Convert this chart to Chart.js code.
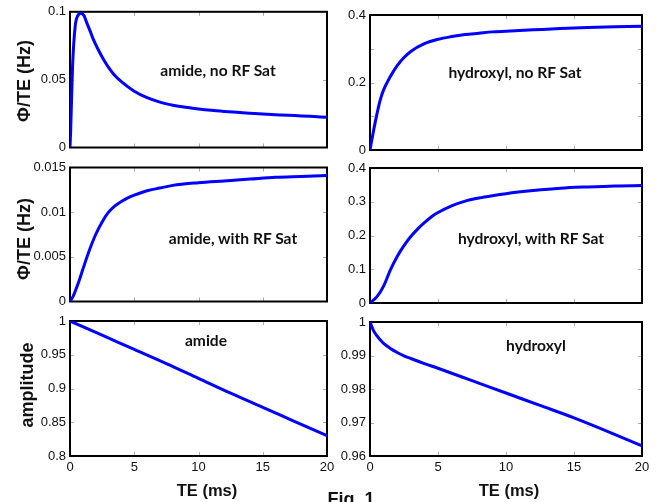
<!DOCTYPE html>
<html>
<head>
<meta charset="utf-8">
<script src="https://cdn.jsdelivr.net/npm/chart.js@4/dist/chart.umd.min.js"></script>
<style>
body { margin: 0; background: #fff; }
#fig { position: relative; width: 661px; height: 502px; overflow: hidden; }
#fig canvas { position: absolute; left: 0; top: 0; }
.lbl { position: absolute; white-space: nowrap; transform: translate(-50%, -50%); line-height: 1; color: #111; }
.note { font: bold 15.6px Lato, sans-serif; }
.ax { font: bold 18px "Liberation Sans", Arial, sans-serif; }
.xt { font: bold 16.5px "Liberation Sans", Arial, sans-serif; }
.rot { transform: translate(-50%, -50%) rotate(-90deg); }
</style>
</head>
<body>
<div id="fig">
  <canvas id="c1" width="661" height="502"></canvas>
  <canvas id="c2" width="661" height="502"></canvas>
  <canvas id="c3" width="661" height="502"></canvas>
  <canvas id="c4" width="661" height="502"></canvas>
  <canvas id="c5" width="661" height="502"></canvas>
  <canvas id="c6" width="661" height="502"></canvas>

  <div class="lbl note" style="left:218px;top:70px">amide, no RF Sat</div>
  <div class="lbl note" style="left:515px;top:72px">hydroxyl, no RF Sat</div>
  <div class="lbl note" style="left:233px;top:238px">amide, with RF Sat</div>
  <div class="lbl note" style="left:531px;top:238px">hydroxyl, with RF Sat</div>
  <div class="lbl note" style="left:206px;top:340px">amide</div>
  <div class="lbl note" style="left:536px;top:345px">hydroxyl</div>

  <div class="lbl ax rot" style="left:24px;top:81px">Φ/TE (Hz)</div>
  <div class="lbl ax rot" style="left:24px;top:239px">Φ/TE (Hz)</div>
  <div class="lbl ax rot" style="left:27px;top:385px">amplitude</div>
  <div class="lbl xt" style="left:207px;top:490px">TE (ms)</div>
  <div class="lbl xt" style="left:509px;top:490px">TE (ms)</div>
  <div class="lbl ax" style="left:351px;top:499px">Fig. 1</div>
</div>
<script>
// values, TE in ms
const te1  = [0, 0.05, 0.2, 0.4, 0.6, 0.85, 1.1, 1.3, 1.6, 1.8, 2.2, 2.6, 3, 3.4, 4, 5, 6, 7, 8, 9, 10, 11, 12, 13, 14, 15, 16, 17, 18, 19, 20];
const phi1 = [0, 0.012, 0.060, 0.089, 0.097, 0.099, 0.097, 0.092, 0.085, 0.080, 0.072, 0.065, 0.059, 0.054, 0.0485, 0.0415, 0.0367, 0.0334, 0.0312, 0.0296, 0.0284, 0.0274, 0.0266, 0.0259, 0.0253, 0.0247, 0.0242, 0.0237, 0.0233, 0.0228, 0.0223];

const te2  = [0, 0.25, 0.5, 0.75, 1, 1.5, 2, 2.5, 3, 4, 5, 6, 7, 8, 9, 10, 12, 14, 16, 18, 20];
const phi2 = [0, 0.055, 0.105, 0.148, 0.178, 0.218, 0.250, 0.274, 0.292, 0.315, 0.328, 0.336, 0.342, 0.346, 0.350, 0.352, 0.356, 0.360, 0.363, 0.365, 0.367];

const te3  = [0, 0.25, 0.5, 0.75, 1, 1.5, 2, 2.5, 3, 3.5, 4, 4.5, 5, 6, 7, 8, 10, 12, 14, 16, 18, 20];
const phi3 = [0, 0.0006, 0.0015, 0.0025, 0.0036, 0.0057, 0.0075, 0.0089, 0.0100, 0.0107, 0.0112, 0.0116, 0.0119, 0.0124, 0.0127, 0.0130, 0.0133, 0.0135, 0.0137, 0.0139, 0.0140, 0.0141];

const te4  = [0, 0.5, 1, 1.5, 2, 2.5, 3, 3.5, 4, 4.5, 5, 6, 7, 8, 9, 10, 12, 14, 16, 18, 20];
const phi4 = [0, 0.018, 0.050, 0.098, 0.138, 0.170, 0.197, 0.219, 0.238, 0.255, 0.268, 0.288, 0.302, 0.311, 0.318, 0.324, 0.333, 0.340, 0.344, 0.347, 0.348];

const te5  = [0, 2.5, 5, 7.5, 10, 12.5, 15, 17.5, 20];
const amp5 = [1, 0.979, 0.958, 0.937, 0.915, 0.893, 0.872, 0.851, 0.83];

const te6  = [0, 0.25, 0.5, 0.75, 1, 1.5, 2, 2.5, 3, 4, 5, 7.5, 10, 12.5, 15, 17.5, 20];
const amp6 = [1, 0.9975, 0.9959, 0.9947, 0.9936, 0.9921, 0.9909, 0.9899, 0.9891, 0.9876, 0.9862, 0.9825, 0.9788, 0.9751, 0.9714, 0.9673, 0.963];

const xTicks = [0, 5, 10, 15, 20];
const yTicks1 = [0, 0.05, 0.1];
const yTicks2 = [0, 0.1, 0.2, 0.3, 0.4];
const yLabels2 = [0, 0.2, 0.4];
const yTicks3 = [0, 0.005, 0.01, 0.015];
const yTicks4 = [0, 0.1, 0.2, 0.3, 0.4];
const yTicks5 = [0.8, 0.85, 0.9, 0.95, 1];
const yTicks6 = [0.96, 0.97, 0.98, 0.99, 1];

const W = 661, H = 502;
const tickFont = { family: '"Liberation Sans", Arial, sans-serif', size: 13 };

// black box + small inward tick marks, like the matlab axes
const frame = {
  id: 'frame',
  beforeDatasetsDraw(chart) {
    const { ctx, chartArea: a, scales: { x, y } } = chart;
    ctx.save();
    ctx.strokeStyle = '#aaa';
    ctx.lineWidth = 1;
    ctx.beginPath();
    x.ticks.forEach(t => {
      if (t.value <= x.min || t.value >= x.max) return;
      const px = Math.round(x.getPixelForValue(t.value)) + 0.5;
      ctx.moveTo(px, a.top); ctx.lineTo(px, a.top + 4);
      ctx.moveTo(px, a.bottom); ctx.lineTo(px, a.bottom - 4);
    });
    y.ticks.forEach(t => {
      if (t.value <= y.min || t.value >= y.max) return;
      const py = Math.round(y.getPixelForValue(t.value)) + 0.5;
      ctx.moveTo(a.left, py); ctx.lineTo(a.left + 4, py);
      ctx.moveTo(a.right, py); ctx.lineTo(a.right - 4, py);
    });
    ctx.stroke();
    ctx.strokeStyle = '#000';
    ctx.lineWidth = 2;
    ctx.strokeRect(a.left, a.top, a.width, a.height);
    ctx.restore();
  }
};

function panel(id, xs, ys, yMin, yMax, yTicks, yLabels, box, showX) {
  const xH = showX ? 20 : 0, yW = 50;
  new Chart(document.getElementById(id), {
    type: 'line',
    data: {
      datasets: [{
        data: xs.map((x, i) => ({ x: x, y: ys[i] })),
        borderColor: '#0000ff',
        borderWidth: 3,
        pointRadius: 0,
        cubicInterpolationMode: 'monotone',
        fill: false
      }]
    },
    options: {
      responsive: false,
      animation: false,
      devicePixelRatio: 1,
      layout: { padding: { left: box.l - yW, top: box.t, right: W - box.r, bottom: H - box.b - xH } },
      plugins: { legend: { display: false }, tooltip: { enabled: false } },
      scales: {
        x: {
          type: 'linear', min: 0, max: 20,
          grid: { display: false, drawTicks: false },
          border: { display: false },
          afterBuildTicks: s => { s.ticks = xTicks.map(v => ({ value: v })); },
          afterFit: s => { s.height = xH; },
          ticks: { display: showX, padding: 4, color: '#111', font: tickFont, maxRotation: 0,
                   callback: v => String(v) }
        },
        y: {
          type: 'linear', min: yMin, max: yMax,
          grid: { display: false, drawTicks: false },
          border: { display: false },
          afterBuildTicks: s => { s.ticks = yTicks.map(v => ({ value: v })); },
          afterFit: s => { s.width = yW; },
          ticks: { padding: 4, color: '#111', font: tickFont,
                   callback: v => yLabels.includes(v) ? String(v) : '' }
        }
      }
    },
    plugins: [frame]
  });
}

panel('c1', te1, phi1, 0, 0.1, yTicks1, yTicks1, { l: 70, t: 11.5, r: 327, b: 147.5 }, false);
panel('c2', te2, phi2, 0, 0.4, yTicks2, yLabels2, { l: 370, t: 15, r: 642, b: 150 }, false);
panel('c3', te3, phi3, 0, 0.015, yTicks3, yTicks3, { l: 70, t: 167.5, r: 327, b: 301.5 }, false);
panel('c4', te4, phi4, 0, 0.4, yTicks4, yTicks4, { l: 370, t: 168, r: 642, b: 303 }, false);
panel('c5', te5, amp5, 0.8, 1, yTicks5, yTicks5, { l: 70, t: 321, r: 327, b: 456 }, true);
panel('c6', te6, amp6, 0.96, 1, yTicks6, yTicks6, { l: 370, t: 322, r: 642, b: 456 }, true);
</script>
</body>
</html>
